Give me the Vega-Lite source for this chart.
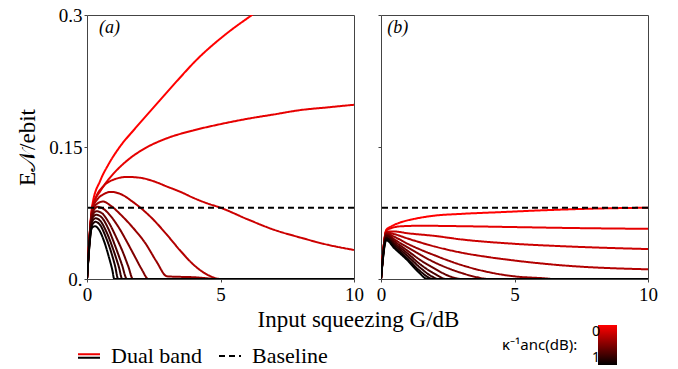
{
  "$schema": "https://vega.github.io/schema/vega-lite/v6.json",
  "padding": {"left": 16, "top": 5, "right": 5, "bottom": 0},
  "background": "white",
  "config": {
    "view": {"stroke": "#444", "strokeWidth": 1},
    "axis": {"grid": false, "domain": false, "labelFont": "Liberation Serif", "labelFontSize": 19, "labelColor": "#000", "tickColor": "#444", "tickSize": 3, "titleFont": "Liberation Serif", "titleFontSize": 23, "titleFontWeight": "normal", "titleColor": "#000", "labelFlush": false}
  },
  "datasets": {
    "a": [
      {"k":0,"G":0,"E":0},{"k":0,"G":0.2,"E":0.084},{"k":0,"G":0.5,"E":0.112},{"k":0,"G":0.8,"E":0.13},{"k":0,"G":1.2,"E":0.149},{"k":0,"G":1.8,"E":0.171},{"k":0,"G":2.7,"E":0.202},{"k":0,"G":3.4,"E":0.226},{"k":0,"G":4.07,"E":0.248},{"k":0,"G":5.19,"E":0.278},{"k":0,"G":6.18,"E":0.3},{"k":0,"G":6.6,"E":0.309},
      {"k":0.1,"G":0,"E":0},{"k":0.1,"G":0.2,"E":0.082},{"k":0.1,"G":0.3,"E":0.09},{"k":0.1,"G":0.5,"E":0.1},{"k":0.1,"G":0.75,"E":0.111},{"k":0.1,"G":1,"E":0.12},{"k":0.1,"G":1.6,"E":0.137},{"k":0.1,"G":2.2,"E":0.149},{"k":0.1,"G":3,"E":0.16},{"k":0.1,"G":4,"E":0.169},{"k":0.1,"G":5,"E":0.176},{"k":0.1,"G":6,"E":0.182},{"k":0.1,"G":7,"E":0.187},{"k":0.1,"G":8,"E":0.192},{"k":0.1,"G":9,"E":0.195},{"k":0.1,"G":10,"E":0.198},
      {"k":0.2,"G":0,"E":0},{"k":0.2,"G":0.2,"E":0.08},{"k":0.2,"G":0.35,"E":0.094},{"k":0.2,"G":0.6,"E":0.105},{"k":0.2,"G":1,"E":0.113},{"k":0.2,"G":1.5,"E":0.116},{"k":0.2,"G":2,"E":0.115},{"k":0.2,"G":2.5,"E":0.111},{"k":0.2,"G":3,"E":0.105},{"k":0.2,"G":3.5,"E":0.099},{"k":0.2,"G":4,"E":0.092},{"k":0.2,"G":4.5,"E":0.086},{"k":0.2,"G":5,"E":0.081},{"k":0.2,"G":6,"E":0.068},{"k":0.2,"G":7,"E":0.056},{"k":0.2,"G":8,"E":0.047},{"k":0.2,"G":9,"E":0.039},{"k":0.2,"G":10,"E":0.033},
      {"k":0.3,"G":0,"E":0},{"k":0.3,"G":0.2,"E":0.079},{"k":0.3,"G":0.4,"E":0.091},{"k":0.3,"G":0.6,"E":0.096},{"k":0.3,"G":0.9,"E":0.099},{"k":0.3,"G":1.3,"E":0.096},{"k":0.3,"G":1.7,"E":0.088},{"k":0.3,"G":2,"E":0.081},{"k":0.3,"G":2.5,"E":0.067},{"k":0.3,"G":3,"E":0.05},{"k":0.3,"G":3.5,"E":0.032},{"k":0.3,"G":4,"E":0.016},{"k":0.3,"G":4.5,"E":0.005},{"k":0.3,"G":5,"E":0},{"k":0.3,"G":10,"E":0},
      {"k":0.4,"G":0,"E":0},{"k":0.4,"G":0.2,"E":0.077},{"k":0.4,"G":0.4,"E":0.086},{"k":0.4,"G":0.6,"E":0.088},{"k":0.4,"G":0.9,"E":0.083},{"k":0.4,"G":1.3,"E":0.072},{"k":0.4,"G":1.7,"E":0.059},{"k":0.4,"G":2.2,"E":0.04},{"k":0.4,"G":2.6,"E":0.02},{"k":0.4,"G":3,"E":0.003},{"k":0.4,"G":4,"E":0.002},{"k":0.4,"G":5,"E":0},{"k":0.4,"G":10,"E":0},
      {"k":0.5,"G":0,"E":0},{"k":0.5,"G":0.2,"E":0.075},{"k":0.5,"G":0.4,"E":0.082},{"k":0.5,"G":0.6,"E":0.08},{"k":0.5,"G":0.9,"E":0.071},{"k":0.5,"G":1.2,"E":0.058},{"k":0.5,"G":1.5,"E":0.042},{"k":0.5,"G":1.8,"E":0.025},{"k":0.5,"G":2.05,"E":0.011},{"k":0.5,"G":2.3,"E":0},{"k":0.5,"G":10,"E":0},
      {"k":0.6,"G":0,"E":0},{"k":0.6,"G":0.2,"E":0.072},{"k":0.6,"G":0.35,"E":0.077},{"k":0.6,"G":0.55,"E":0.075},{"k":0.6,"G":0.8,"E":0.065},{"k":0.6,"G":1.1,"E":0.047},{"k":0.6,"G":1.35,"E":0.03},{"k":0.6,"G":1.55,"E":0.014},{"k":0.6,"G":1.72,"E":0},{"k":0.6,"G":10,"E":0},
      {"k":0.7,"G":0,"E":0},{"k":0.7,"G":0.2,"E":0.069},{"k":0.7,"G":0.35,"E":0.073},{"k":0.7,"G":0.55,"E":0.07},{"k":0.7,"G":0.8,"E":0.057},{"k":0.7,"G":1.05,"E":0.038},{"k":0.7,"G":1.3,"E":0.017},{"k":0.7,"G":1.5,"E":0},{"k":0.7,"G":10,"E":0},
      {"k":0.8,"G":0,"E":0},{"k":0.8,"G":0.2,"E":0.066},{"k":0.8,"G":0.33,"E":0.069},{"k":0.8,"G":0.5,"E":0.066},{"k":0.8,"G":0.75,"E":0.052},{"k":0.8,"G":1,"E":0.032},{"k":0.8,"G":1.2,"E":0.013},{"k":0.8,"G":1.32,"E":0},{"k":0.8,"G":10,"E":0},
      {"k":0.9,"G":0,"E":0},{"k":0.9,"G":0.2,"E":0.062},{"k":0.9,"G":0.32,"E":0.065},{"k":0.9,"G":0.5,"E":0.061},{"k":0.9,"G":0.7,"E":0.048},{"k":0.9,"G":0.9,"E":0.031},{"k":0.9,"G":1.05,"E":0.015},{"k":0.9,"G":1.17,"E":0},{"k":0.9,"G":10,"E":0},
      {"k":1,"G":0,"E":0},{"k":1,"G":0.18,"E":0.058},{"k":1,"G":0.3,"E":0.06},{"k":1,"G":0.45,"E":0.056},{"k":1,"G":0.65,"E":0.042},{"k":1,"G":0.82,"E":0.025},{"k":1,"G":0.95,"E":0.01},{"k":1,"G":1.02,"E":0},{"k":1,"G":10,"E":0}
    ],
    "b": [
      {"k":0,"G":0,"E":0},{"k":0,"G":0.2,"E":0.056},{"k":0,"G":0.4,"E":0.06},{"k":0,"G":0.8,"E":0.065},{"k":0,"G":1.2,"E":0.068},{"k":0,"G":2,"E":0.072},{"k":0,"G":3,"E":0.074},{"k":0,"G":4.5,"E":0.076},{"k":0,"G":6,"E":0.078},{"k":0,"G":8,"E":0.08},{"k":0,"G":10,"E":0.081},
      {"k":0.1,"G":0,"E":0},{"k":0.1,"G":0.2,"E":0.055},{"k":0.1,"G":0.4,"E":0.058},{"k":0.1,"G":0.8,"E":0.06},{"k":0.1,"G":1.5,"E":0.0605},{"k":0.1,"G":3,"E":0.06},{"k":0.1,"G":5,"E":0.059},{"k":0.1,"G":7,"E":0.058},{"k":0.1,"G":10,"E":0.057},
      {"k":0.2,"G":0,"E":0},{"k":0.2,"G":0.2,"E":0.054},{"k":0.2,"G":0.5,"E":0.054},{"k":0.2,"G":1,"E":0.052},{"k":0.2,"G":2,"E":0.049},{"k":0.2,"G":3,"E":0.045},{"k":0.2,"G":5,"E":0.04},{"k":0.2,"G":7,"E":0.037},{"k":0.2,"G":10,"E":0.034},
      {"k":0.3,"G":0,"E":0},{"k":0.3,"G":0.2,"E":0.053},{"k":0.3,"G":0.5,"E":0.051},{"k":0.3,"G":1,"E":0.046},{"k":0.3,"G":2,"E":0.037},{"k":0.3,"G":3,"E":0.03},{"k":0.3,"G":4,"E":0.025},{"k":0.3,"G":5,"E":0.021},{"k":0.3,"G":7,"E":0.015},{"k":0.3,"G":10,"E":0.011},
      {"k":0.4,"G":0,"E":0},{"k":0.4,"G":0.2,"E":0.052},{"k":0.4,"G":0.5,"E":0.048},{"k":0.4,"G":1,"E":0.04},{"k":0.4,"G":2,"E":0.027},{"k":0.4,"G":3,"E":0.016},{"k":0.4,"G":4,"E":0.008},{"k":0.4,"G":5,"E":0.003},{"k":0.4,"G":6,"E":0.001},{"k":0.4,"G":6.5,"E":0},{"k":0.4,"G":10,"E":0},
      {"k":0.5,"G":0,"E":0},{"k":0.5,"G":0.2,"E":0.051},{"k":0.5,"G":0.5,"E":0.045},{"k":0.5,"G":1,"E":0.036},{"k":0.5,"G":2,"E":0.019},{"k":0.5,"G":3,"E":0.007},{"k":0.5,"G":3.6,"E":0.002},{"k":0.5,"G":4,"E":0},{"k":0.5,"G":10,"E":0},
      {"k":0.6,"G":0,"E":0},{"k":0.6,"G":0.2,"E":0.05},{"k":0.6,"G":0.5,"E":0.043},{"k":0.6,"G":1,"E":0.032},{"k":0.6,"G":1.5,"E":0.021},{"k":0.6,"G":2,"E":0.012},{"k":0.6,"G":2.5,"E":0.004},{"k":0.6,"G":3,"E":0},{"k":0.6,"G":10,"E":0},
      {"k":0.7,"G":0,"E":0},{"k":0.7,"G":0.2,"E":0.049},{"k":0.7,"G":0.5,"E":0.041},{"k":0.7,"G":1,"E":0.029},{"k":0.7,"G":1.5,"E":0.016},{"k":0.7,"G":2,"E":0.006},{"k":0.7,"G":2.45,"E":0},{"k":0.7,"G":10,"E":0},
      {"k":0.8,"G":0,"E":0},{"k":0.8,"G":0.2,"E":0.047},{"k":0.8,"G":0.5,"E":0.039},{"k":0.8,"G":1,"E":0.026},{"k":0.8,"G":1.5,"E":0.012},{"k":0.8,"G":1.9,"E":0.003},{"k":0.8,"G":2.15,"E":0},{"k":0.8,"G":10,"E":0},
      {"k":0.9,"G":0,"E":0},{"k":0.9,"G":0.2,"E":0.046},{"k":0.9,"G":0.5,"E":0.037},{"k":0.9,"G":1,"E":0.023},{"k":0.9,"G":1.5,"E":0.008},{"k":0.9,"G":1.95,"E":0},{"k":0.9,"G":10,"E":0},
      {"k":1,"G":0,"E":0},{"k":1,"G":0.2,"E":0.044},{"k":1,"G":0.5,"E":0.035},{"k":1,"G":1,"E":0.021},{"k":1,"G":1.4,"E":0.008},{"k":1,"G":1.74,"E":0},{"k":1,"G":10,"E":0}
    ],
    "base": [{"E": 0.081}]
  },
  "bounds": "flush",
  "spacing": 27,
  "hconcat": [
    {
      "width": 267, "height": 264,
      "layer": [
        {
          "data": {"name": "a"},
          "mark": {"type": "line", "strokeWidth": 2, "clip": true, "interpolate": "monotone"},
          "encoding": {
            "x": {"field": "G", "type": "quantitative", "scale": {"domain": [0, 10], "nice": false}, "axis": {"values": [0, 5, 10], "labelPadding": 3, "title": "Input squeezing G/dB", "titleX": 271, "titleAlign": "center", "titlePadding": 4}},
            "y": {"field": "E", "type": "quantitative", "scale": {"domain": [0, 0.3], "nice": false}, "axis": {"values": [0, 0.15, 0.3], "labelExpr": "datum.value == 0 ? '0.' : (datum.value < 0.2 ? '0.15' : '0.3')", "title": "E𝒩/ebit", "titlePadding": 9}},
            "detail": {"field": "k", "type": "nominal"},
            "color": {"field": "k", "type": "quantitative", "scale": {"domain": [1, 0], "range": ["#000000", "#ff0000"], "interpolate": "rgb"},
              "legend": {"orient": "none", "legendX": 415, "legendY": 310, "direction": "vertical", "gradientLength": 40, "gradientThickness": 19, "values": [0, 1], "labelExpr": "datum.value < 0.5 ? '0' : '1'", "labelAlign": "right", "labelOffset": -25, "title": "κ⁻¹anc(dB):", "titleOrient": "left", "titleAnchor": "middle", "titlePadding": 20, "titleFont": "Noto Sans", "titleFontSize": 15, "titleFontWeight": "normal", "titleColor": "#000", "labelFont": "Noto Sans", "labelFontSize": 14, "labelColor": "#000", "gradientStrokeWidth": 0,
                "encode": {"title": {"update": {"angle": {"value": 0}, "align": {"value": "left"}, "baseline": {"value": "middle"}}}}}},
            "strokeDash": {"datum": "Dual band", "scale": {"domain": ["Dual band", "Baseline"], "range": [[1, 0], [6, 4]]},
              "legend": {"orient": "none", "legendX": -10, "legendY": 329, "direction": "horizontal", "title": null, "symbolType": "stroke", "symbolSize": 484, "symbolStrokeWidth": 2, "symbolStrokeColor": "#000", "labelFont": "Liberation Serif", "labelFontSize": 22, "labelColor": "#000", "labelOffset": 10, "columnPadding": 12,
                "encode": {"symbols": {"update": {
                  "shape": {"signal": "datum.value === 'Dual band' ? 'M-1,-0.26H1V-0.06H-1Z M-1,0.06H1V0.26H-1Z' : 'stroke'"},
                  "fill": {"signal": "datum.value === 'Dual band' ? {gradient: 'linear', x1: 0, y1: 0, x2: 0, y2: 1, stops: [{offset: 0, color: '#ee0000'}, {offset: 0.5, color: '#ee0000'}, {offset: 0.5, color: '#000000'}, {offset: 1, color: '#000000'}]} : 'transparent'"},
                  "stroke": {"signal": "datum.value === 'Dual band' ? 'transparent' : '#000000'"}}}}}}
          }
        },
        {
          "data": {"name": "base"},
          "mark": {"type": "rule", "strokeWidth": 2, "color": "#000"},
          "encoding": {"y": {"field": "E", "type": "quantitative"}, "strokeDash": {"datum": "Baseline"}}
        },
        {
          "data": {"values": [{}]},
          "mark": {"type": "text", "font": "Liberation Serif", "fontSize": 18, "fontStyle": "italic", "align": "left", "baseline": "middle", "color": "#000"},
          "encoding": {"x": {"datum": 0.45}, "y": {"datum": 0.285}, "text": {"value": "(a)"}}
        }
      ]
    },
    {
      "width": 267, "height": 264,
      "layer": [
        {
          "data": {"name": "b"},
          "mark": {"type": "line", "strokeWidth": 2, "clip": true, "interpolate": "monotone"},
          "encoding": {
            "x": {"field": "G", "type": "quantitative", "scale": {"domain": [0, 10], "nice": false}, "axis": {"values": [0, 5, 10], "labelPadding": 3, "title": null}},
            "y": {"field": "E", "type": "quantitative", "scale": {"domain": [0, 0.3], "nice": false}, "axis": {"values": [0, 0.15, 0.3], "labels": false, "title": null}},
            "detail": {"field": "k", "type": "nominal"},
            "color": {"field": "k", "type": "quantitative"},
            "strokeDash": {"datum": "Dual band"}
          }
        },
        {
          "data": {"name": "base"},
          "mark": {"type": "rule", "strokeWidth": 2, "color": "#000"},
          "encoding": {"y": {"field": "E", "type": "quantitative"}, "strokeDash": {"datum": "Baseline"}}
        },
        {
          "data": {"values": [{}]},
          "mark": {"type": "text", "font": "Liberation Serif", "fontSize": 18, "fontStyle": "italic", "align": "left", "baseline": "middle", "color": "#000"},
          "encoding": {"x": {"datum": 0.23}, "y": {"datum": 0.285}, "text": {"value": "(b)"}}
        }
      ]
    }
  ]
}
